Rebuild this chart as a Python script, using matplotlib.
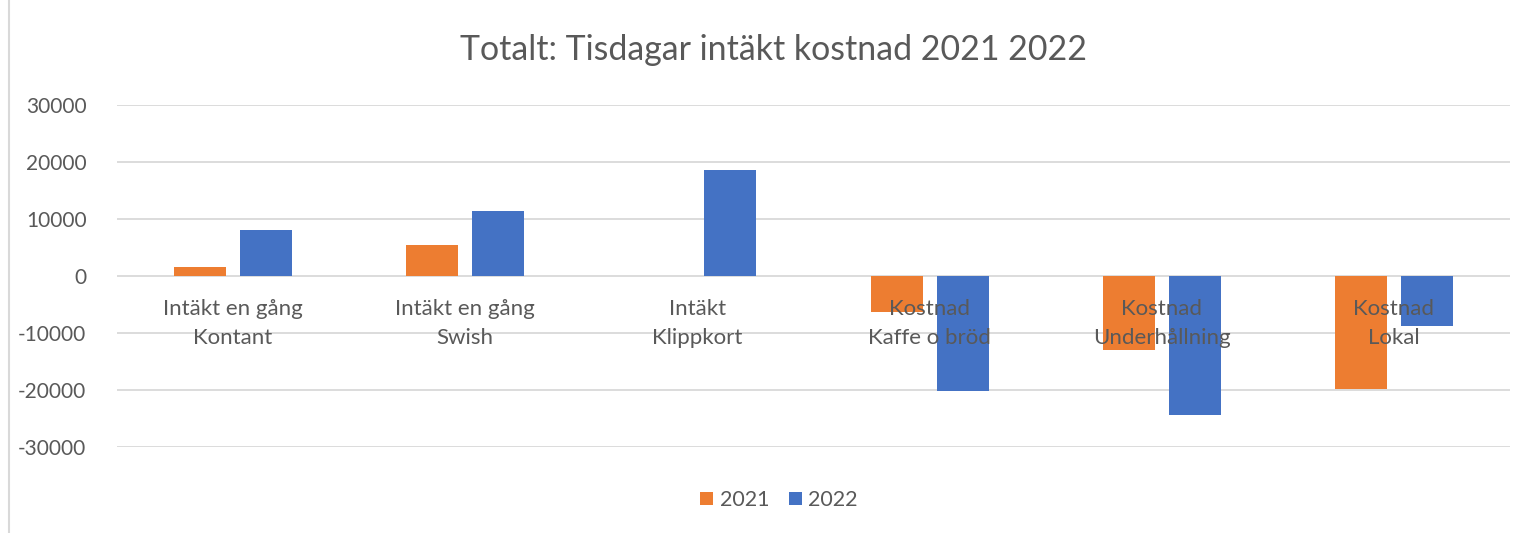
import numpy as np
import matplotlib
matplotlib.use("Agg")
import matplotlib.pyplot as plt
from matplotlib.lines import Line2D

plt.rcParams['font.family'] = ['Lato', 'DejaVu Sans']
plt.rcParams['axes.unicode_minus'] = False

categories = ["Intäkt en gång\nKontant", "Intäkt en gång\nSwish", "Intäkt\nKlippkort",
              "Kostnad\nKaffe o bröd", "Kostnad\nUnderhållning", "Kostnad\nLokal"]
v2021 = [1500, 5300, 0, -6400, -13000, -19800]
v2022 = [8000, 11300, 18500, -20300, -24400, -8900]

text_col = '#595959'
grid_col = '#d9d9d9'

fig = plt.figure(figsize=(15.2, 5.33), dpi=100)
ax = fig.add_axes([0.077, 0.1619, 0.9164, 0.6417])

x = np.arange(len(categories))
w = 0.224
ax.bar(x - 0.142, v2021, w, color='#ED7D31', label='2021', zorder=2)
ax.bar(x + 0.142, v2022, w, color='#4472C4', label='2022', zorder=2)

ax.set_xlim(-0.5, len(categories) - 0.5)
ax.set_ylim(-30000, 30000)
ax.set_yticks(np.arange(-30000, 30001, 10000))
ax.yaxis.grid(True, color=grid_col, linewidth=1.3, zorder=0)
ax.set_axisbelow(True)

for s in ['top', 'right', 'left', 'bottom']:
    ax.spines[s].set_visible(False)

ax.set_xticks([])
ax.tick_params(axis='y', length=0, pad=22, labelsize=15, labelcolor=text_col)

# category labels sit just under the zero line, drawn over the bars like in Excel
for xi, lab in zip(x, categories):
    ax.annotate(lab, (xi, 0), xytext=(0, -34.5), textcoords='offset points',
                ha='center', va='center', fontsize=16, color=text_col,
                linespacing=1.55, zorder=5, annotation_clip=False)

fig.text(0.509, 0.907, "Totalt: Tisdagar intäkt kostnad 2021 2022", ha='center', va='center',
         fontsize=24.4, color=text_col)

fig.legend(loc='center', bbox_to_anchor=(0.5125, 0.062), ncol=2, frameon=False,
           fontsize=15.5, handlelength=0.6, handleheight=0.6, handletextpad=0.3,
           columnspacing=0.9, labelcolor=text_col)

fig.add_artist(Line2D([0.0056, 0.0056], [0, 1], color=grid_col, linewidth=1.5))

fig.savefig("out.png", dpi=100)
